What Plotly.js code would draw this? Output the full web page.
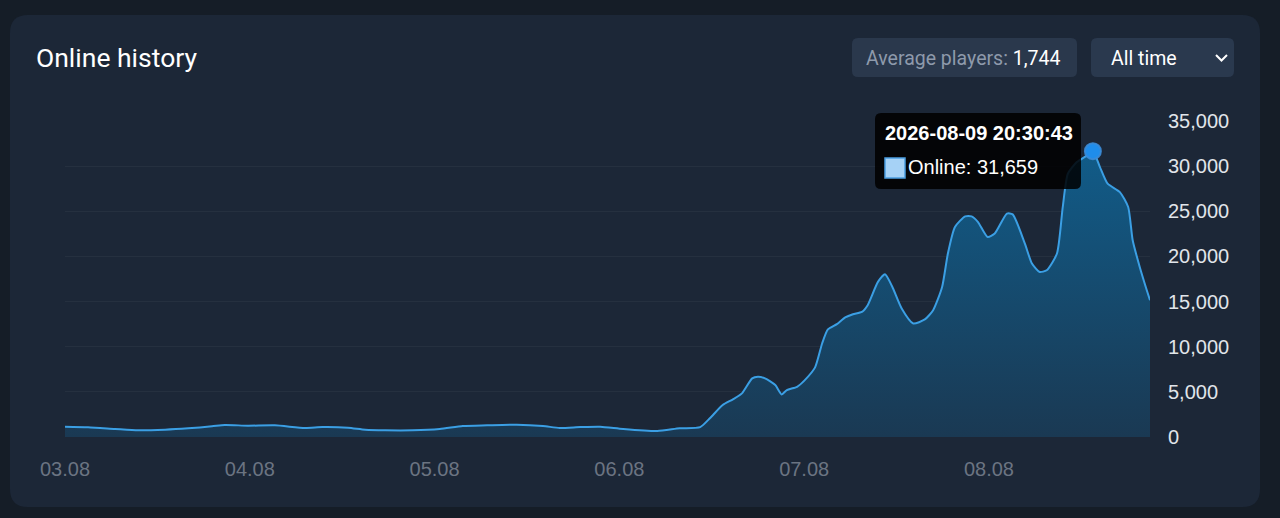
<!DOCTYPE html>
<html>
<head>
<meta charset="utf-8">
<script src="https://cdn.plot.ly/plotly-3.0.1.min.js"></script>
<style>
  html, body { margin: 0; padding: 0; background: #151d27; }
  #chart { width: 1280px; height: 518px; }
</style>
</head>
<body>
<div id="chart"></div>
<script>
// ---- data ----
const times = [
  '2026-08-03 00:00','2026-08-03 03:00','2026-08-03 06:30','2026-08-03 09:30','2026-08-03 13:00',
  '2026-08-03 16:00','2026-08-03 19:05','2026-08-03 20:45','2026-08-03 23:45','2026-08-04 03:15',
  '2026-08-04 07:10','2026-08-04 09:25','2026-08-04 12:45','2026-08-04 15:00','2026-08-04 17:35',
  '2026-08-04 21:10','2026-08-05 00:40','2026-08-05 03:40','2026-08-05 06:50','2026-08-05 10:40',
  '2026-08-05 14:05','2026-08-05 16:15','2026-08-05 18:55','2026-08-05 21:30','2026-08-06 00:30',
  '2026-08-06 04:55','2026-08-06 07:50','2026-08-06 10:30','2026-08-06 11:45','2026-08-06 13:25',
  '2026-08-06 14:45','2026-08-06 15:55','2026-08-06 17:15','2026-08-06 18:00','2026-08-06 18:55',
  '2026-08-06 20:15','2026-08-06 21:05','2026-08-06 21:45','2026-08-06 23:05','2026-08-07 00:05',
  '2026-08-07 01:25','2026-08-07 02:20','2026-08-07 03:05','2026-08-07 04:15','2026-08-07 05:20',
  '2026-08-07 06:20','2026-08-07 07:30','2026-08-07 08:15','2026-08-07 09:35','2026-08-07 10:30',
  '2026-08-07 11:25','2026-08-07 12:40','2026-08-07 14:10','2026-08-07 15:40','2026-08-07 16:45',
  '2026-08-07 17:55','2026-08-07 18:40','2026-08-07 19:35','2026-08-07 20:55','2026-08-07 21:45',
  '2026-08-07 22:35','2026-08-07 23:50','2026-08-08 00:45','2026-08-08 02:20','2026-08-08 03:05',
  '2026-08-08 04:40','2026-08-08 05:35','2026-08-08 06:35','2026-08-08 07:30','2026-08-08 08:50',
  '2026-08-08 09:35','2026-08-08 10:15','2026-08-08 11:25','2026-08-08 12:45','2026-08-08 13:30',
  '2026-08-08 14:25','2026-08-08 15:25','2026-08-08 17:00','2026-08-08 18:05','2026-08-08 18:40',
  '2026-08-08 19:35','2026-08-08 20:30','2026-08-08 20:55'
];
const online = [
  1140,1070,885,740,810,
  960,1180,1330,1250,1290,
  1000,1100,1030,810,740,
  740,885,1215,1290,1360,
  1215,1000,1100,1140,885,
  665,960,1100,2070,3540,
  4170,4830,6490,6670,6490,
  5750,4720,5200,5560,6300,
  7710,10360,11910,12500,13240,
  13600,13860,14600,17180,18030,
  16700,14230,12570,13020,14050,
  16620,20320,23260,24440,24440,
  23810,22150,22530,24740,24660,
  21420,19210,18280,18470,20320,
  25470,29160,30450,31190,31659,
  29900,28060,27130,25470,21790,
  18840,16260,15150
];
const yTicks = [0, 5000, 10000, 15000, 20000, 25000, 30000, 35000];
const cardTitle = 'Online history';
const avgLabel = 'Average players:';
const avgValue = '1,744';
const periodLabel = 'All time';
const tipTitle = '2026-08-09 20:30:43';
const tipSeries = 'Online';

// ---- geometry helpers (pixel -> paper) ----
const W = 1280, H = 518;
const M = {l: 65, r: 130, t: 121, b: 81};
const PW = W - M.l - M.r, PH = H - M.t - M.b;
const X = px => (px - M.l) / PW;
const Y = py => (M.t + PH - py) / PH;
function rr(x0, y0, x1, y1, r) {
  return `M${X(x0 + r)},${Y(y0)} L${X(x1 - r)},${Y(y0)} Q${X(x1)},${Y(y0)} ${X(x1)},${Y(y0 + r)} ` +
         `L${X(x1)},${Y(y1 - r)} Q${X(x1)},${Y(y1)} ${X(x1 - r)},${Y(y1)} L${X(x0 + r)},${Y(y1)} ` +
         `Q${X(x0)},${Y(y1)} ${X(x0)},${Y(y1 - r)} L${X(x0)},${Y(y0 + r)} Q${X(x0)},${Y(y0)} ${X(x0 + r)},${Y(y0)} Z`;
}

let peakIdx = 0;
online.forEach((v, i) => { if (v > online[peakIdx]) peakIdx = i; });
const fmt = v => v.toLocaleString('en-US');

const traces = [
  {
    x: times, y: online, type: 'scatter', mode: 'lines',
    line: {color: '#3b9fe4', width: 2, shape: 'spline', smoothing: 0.6},
    fill: 'tozeroy',
    fillgradient: {type: 'vertical', start: 0, stop: 32000,
      colorscale: [[0, '#1a3953'], [1, '#115c89']]},
    hoverinfo: 'skip'
  },
  {
    x: [times[peakIdx]], y: [online[peakIdx]], type: 'scatter', mode: 'markers',
    marker: {size: 16, color: '#1f8deb', line: {color: 'rgba(60,140,215,0.9)', width: 2}},
    hoverinfo: 'skip', cliponaxis: false
  }
];

const shapes = [
  {type: 'path', xref: 'paper', yref: 'paper', path: rr(10, 15, 1260, 507, 18),
   fillcolor: '#1c2737', line: {width: 0}, layer: 'below'},
  {type: 'path', xref: 'paper', yref: 'paper', path: rr(852, 38, 1077, 77, 6),
   fillcolor: '#2a384c', line: {width: 0}, layer: 'above'},
  {type: 'path', xref: 'paper', yref: 'paper', path: rr(1091, 38, 1234, 77, 6),
   fillcolor: '#2a394e', line: {width: 0}, layer: 'above'},
  {type: 'path', xref: 'paper', yref: 'paper',
   path: `M${X(1216)},${Y(55)} L${X(1221.5)},${Y(60.5)} L${X(1227)},${Y(55)}`,
   line: {color: '#ffffff', width: 2}, layer: 'above'},
  {type: 'path', xref: 'paper', yref: 'paper', path: rr(875, 113, 1081, 189, 6),
   fillcolor: 'rgba(0,0,0,0.86)', line: {width: 0}, layer: 'above'},
  {type: 'rect', xref: 'paper', yref: 'paper', x0: X(885), x1: X(905), y0: Y(178), y1: Y(158),
   fillcolor: '#a6d2f6', line: {color: '#4b9fe2', width: 1.5}, layer: 'above'}
];

const annotations = [
  {xref: 'paper', yref: 'paper', x: X(34), y: Y(57), xanchor: 'left', yanchor: 'middle',
   text: cardTitle, showarrow: false, font: {family: 'Roboto', size: 26.5, color: '#ffffff'}},
  {xref: 'paper', yref: 'paper', x: X(864), y: Y(58), xanchor: 'left', yanchor: 'middle',
   text: `<span style="color:#8e9aab">${avgLabel}</span> ${avgValue}`, showarrow: false,
   font: {family: 'Roboto', size: 19.5, color: '#ffffff'}},
  {xref: 'paper', yref: 'paper', x: X(1109), y: Y(58), xanchor: 'left', yanchor: 'middle',
   text: periodLabel, showarrow: false, font: {family: 'Roboto', size: 19.5, color: '#ffffff'}},
  {xref: 'paper', yref: 'paper', x: X(883), y: Y(133), xanchor: 'left', yanchor: 'middle',
   text: `<b>${tipTitle}</b>`, showarrow: false,
   font: {family: 'Liberation Sans, Arial, sans-serif', size: 20, color: '#ffffff'}},
  {xref: 'paper', yref: 'paper', x: X(906), y: Y(167), xanchor: 'left', yanchor: 'middle',
   text: `${tipSeries}: ${fmt(online[peakIdx])}`, showarrow: false,
   font: {family: 'Liberation Sans, Arial, sans-serif', size: 20, color: '#ffffff'}}
];

const layout = {
  width: W, height: H,
  margin: M,
  paper_bgcolor: '#151d27',
  plot_bgcolor: 'rgba(0,0,0,0)',
  showlegend: false,
  hovermode: false,
  xaxis: {
    type: 'date',
    range: [times[0], times[times.length - 1]],
    tick0: '2026-08-03', dtick: 86400000, tickformat: '%d.%m',
    showgrid: false, zeroline: false, showline: false,
    ticks: 'outside', ticklen: 14, tickcolor: 'rgba(0,0,0,0)',
    tickfont: {family: 'Liberation Sans, Arial, sans-serif', size: 20, color: '#6b7482'},
    fixedrange: true
  },
  yaxis: {
    side: 'right',
    range: [0, 35000],
    tickvals: yTicks,
    ticktext: yTicks.map(fmt),
    showgrid: true, gridcolor: 'rgba(255,255,255,0.045)', gridwidth: 1,
    zeroline: false, showline: false,
    ticks: 'outside', ticklen: 13, tickcolor: 'rgba(0,0,0,0)',
    tickfont: {family: 'Liberation Sans, Arial, sans-serif', size: 20, color: '#e1e5ea'},
    fixedrange: true
  },
  shapes: shapes,
  annotations: annotations
};

Plotly.newPlot('chart', traces, layout, {displayModeBar: false, staticPlot: true});
</script>
</body>
</html>
